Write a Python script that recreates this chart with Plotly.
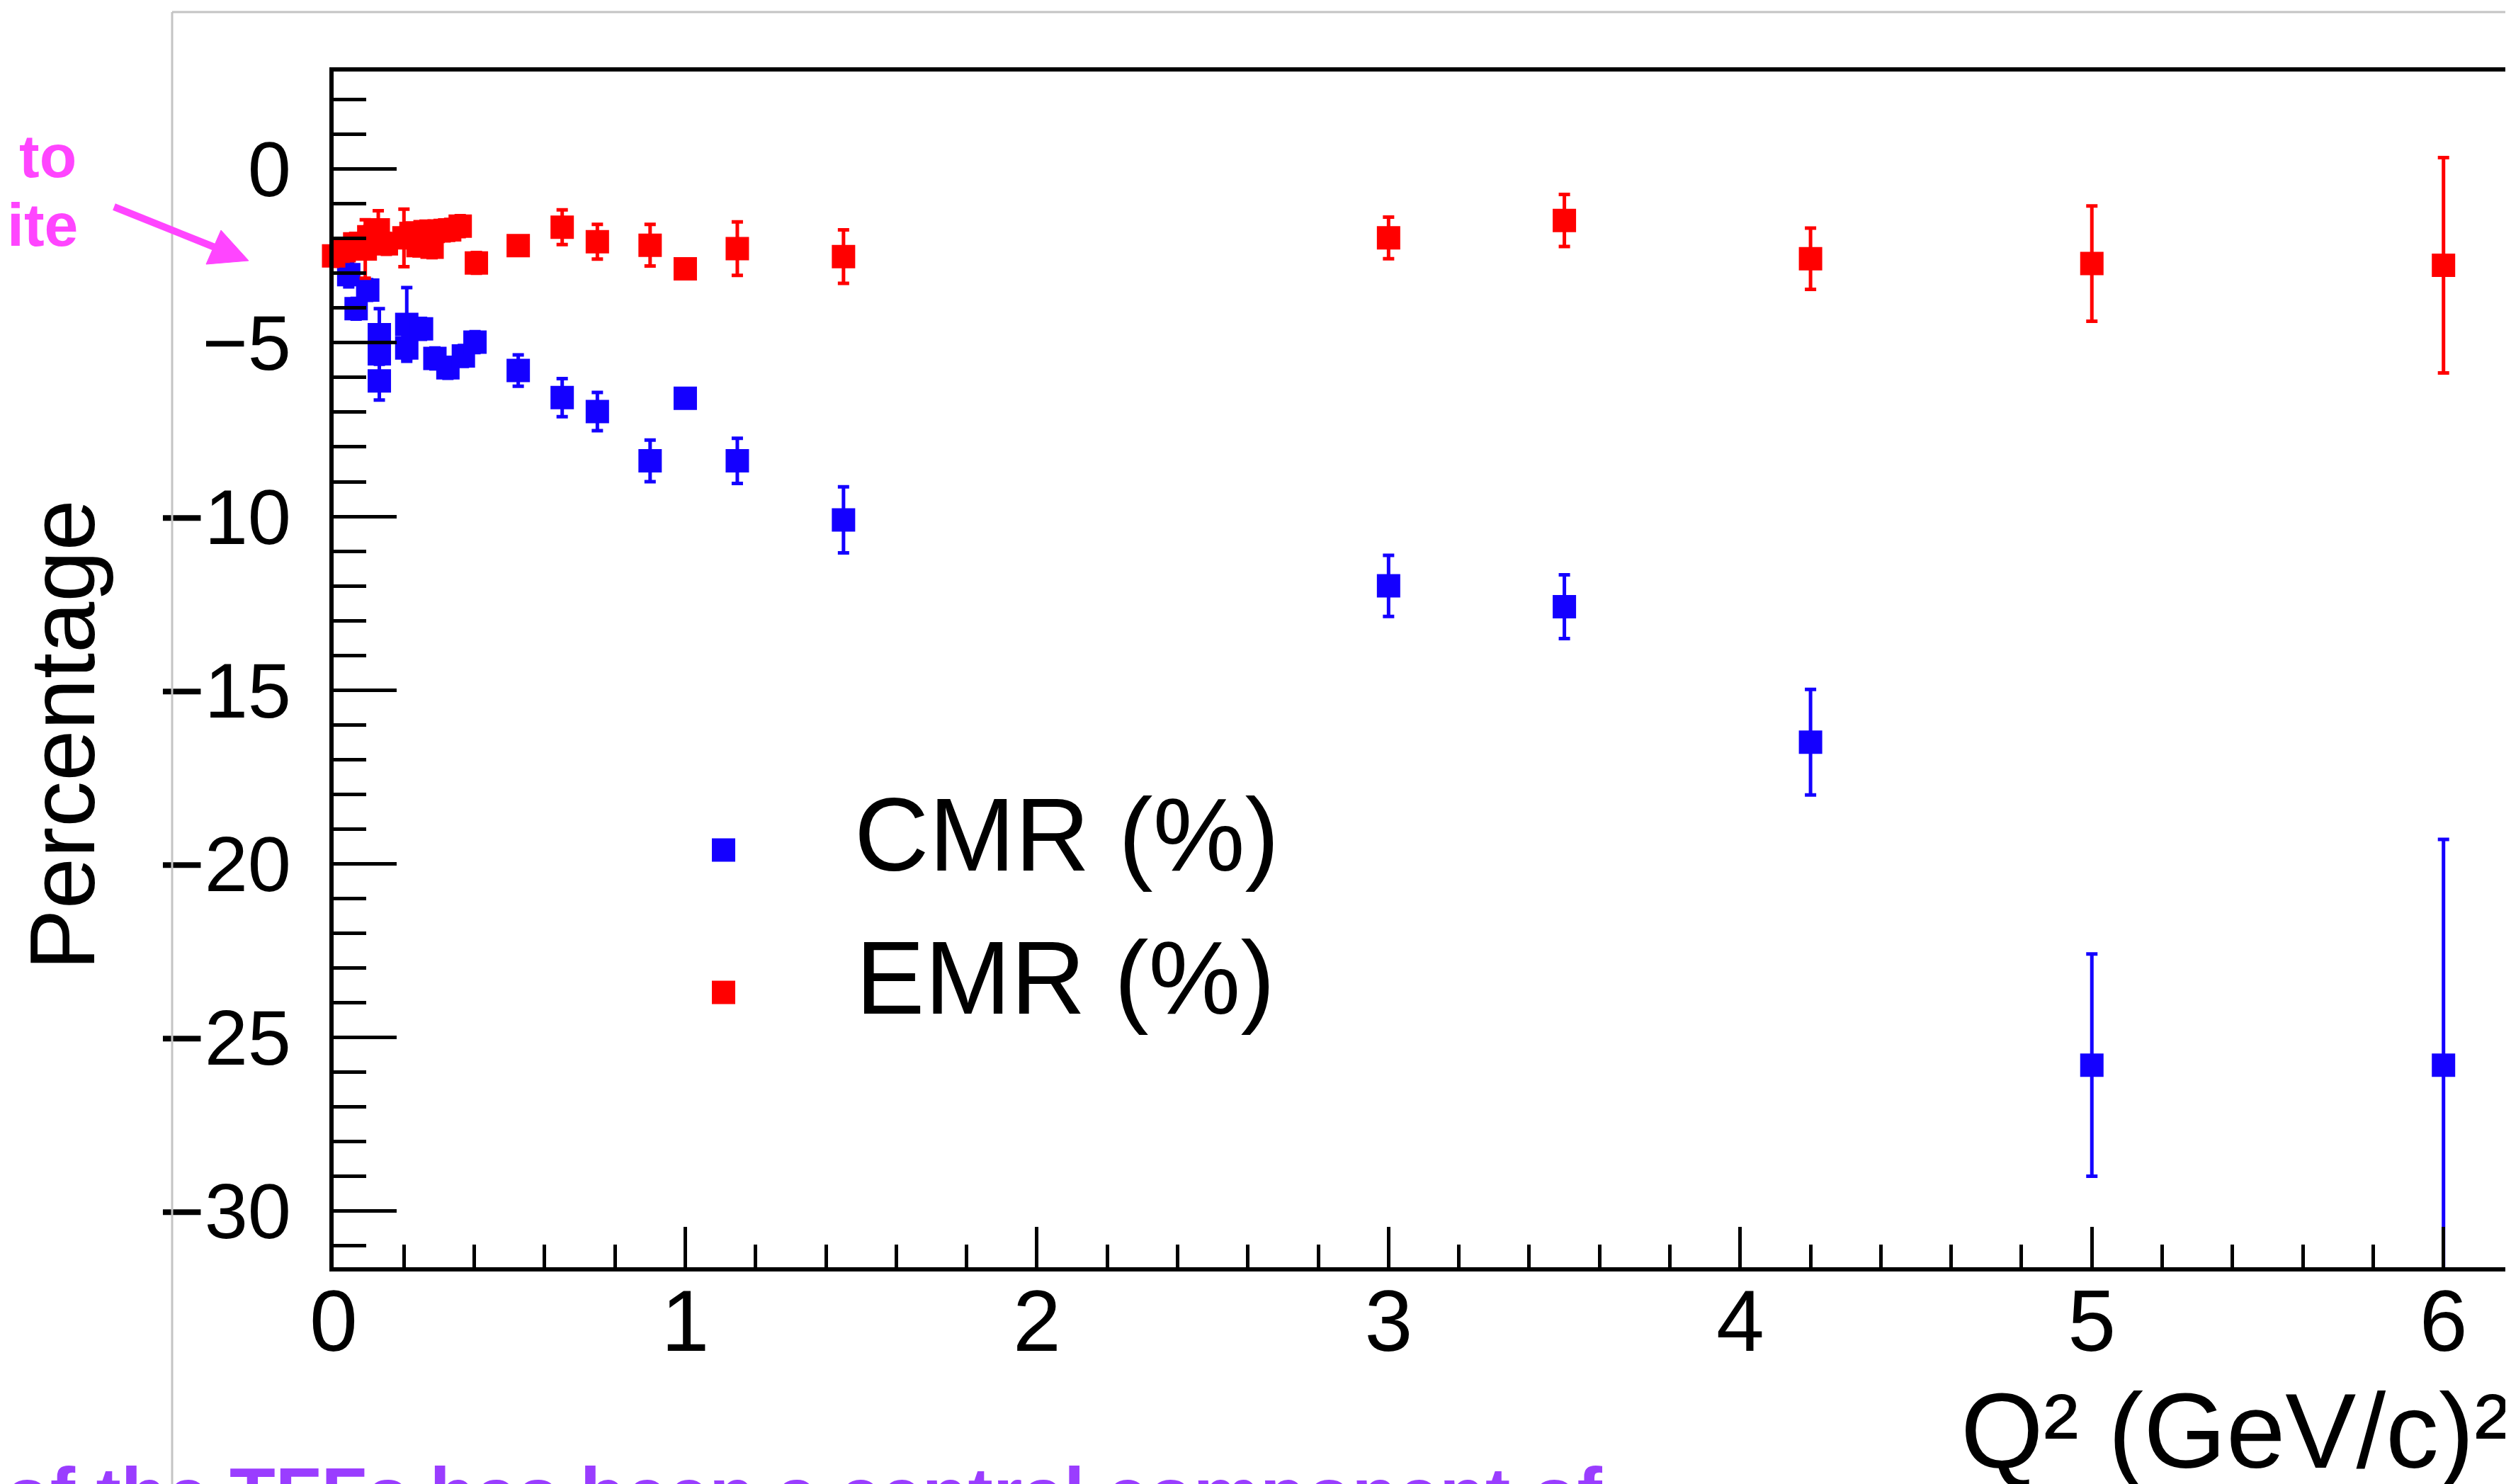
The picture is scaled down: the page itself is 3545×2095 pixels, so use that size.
import plotly.graph_objects as go

# ---------------- data ----------------
q2_cmr = [0.043, 0.064, 0.097, 0.130, 0.130, 0.130, 0.208, 0.208, 0.250, 0.288,
          0.325, 0.369, 0.402, 0.525, 0.650, 0.750, 0.900, 1.000, 1.148, 1.450,
          3.0, 3.5, 4.2, 5.0, 6.0]
cmr = [-3.04, -4.02, -3.48, -4.77, -5.32, -6.10, -4.47, -5.15, -4.60, -5.45,
       -5.72, -5.38, -4.98, -5.80, -6.58, -6.98, -8.40, -6.60, -8.40, -10.10,
       -12.0, -12.6, -16.5, -25.8, -25.8]
cmr_err = [0.35, 0.30, 0.30, 0.75, 0.30, 0.55, 1.06, 0.30, 0.30, 0.30,
           0.30, 0.30, 0.30, 0.45, 0.55, 0.55, 0.60, 0.20, 0.65, 0.95,
           0.88, 0.92, 1.52, 3.2, 6.5]

q2_emr = [0.000, 0.030, 0.060, 0.090, 0.100, 0.127, 0.150, 0.200, 0.220, 0.240,
          0.260, 0.280, 0.300, 0.330, 0.360, 0.406, 0.525, 0.650, 0.750, 0.900,
          1.000, 1.148, 1.450, 3.0, 3.5, 4.2, 5.0, 6.0]
emr = [-2.50, -2.35, -2.15, -2.30, -1.95, -1.75, -2.15, -1.98, -1.85, -2.20,
       -1.80, -2.25, -1.78, -1.75, -1.64, -2.70, -2.20, -1.67, -2.09, -2.19,
       -2.87, -2.29, -2.52, -1.98, -1.48, -2.58, -2.72, -2.77]
emr_err = [0.30, 0.30, 0.30, 0.84, 0.30, 0.55, 0.30, 0.83, 0.30, 0.30,
           0.30, 0.30, 0.30, 0.30, 0.30, 0.30, 0.25, 0.50, 0.50, 0.60,
           0.20, 0.77, 0.77, 0.60, 0.75, 0.88, 1.66, 3.10]

series_names = ["CMR (%)", "EMR (%)"]
x_tickvals = [0, 1, 2, 3, 4, 5, 6]
y_tickvals = [0, -5, -10, -15, -20, -25, -30]
x_title = "Q\u00b2 (GeV/c)\u00b2"
y_title = "Percentage"
note_pink = ["to", "ite"]
note_purple = "of the TFFs has been a central component of"

# ---------------- layout geometry ----------------
W, H = 3545, 2095
L, R, T, B = 463, 3541, 93, 1781


def px(x):
    return (x - L) / (R - L)


def py(y):
    return (B - y) / (B - T)


BLUE = "#1400ff"
RED = "#ff0000"
PINK = "#ff45ff"
PURPLE = "#9a3dff"
FONT = "Liberation Sans, Arial, Helvetica, sans-serif"

fig = go.Figure()
for q, v, e, c, name in [(q2_cmr, cmr, cmr_err, BLUE, series_names[0]),
                         (q2_emr, emr, emr_err, RED, series_names[1])]:
    fig.add_trace(go.Scatter(
        x=q, y=v, mode="markers",
        marker=dict(size=2, color="rgba(0,0,0,0)"),
        error_y=dict(type="data", array=e, color=c, thickness=5, width=8),
        cliponaxis=True, showlegend=False, hoverinfo="skip"))
    fig.add_trace(go.Scatter(
        x=q, y=v, mode="markers", name=name,
        marker=dict(symbol="square", size=33, color=c, line=dict(width=0)),
        cliponaxis=False, showlegend=False))

axis_common = dict(
    showline=True, linecolor="black", linewidth=6, mirror=True,
    showgrid=False, zeroline=False, ticks="inside", tickcolor="black",
    tickwidth=5, automargin=False, color="black",
)
fig.update_xaxes(
    range=[0, 6.2], tickmode="array", tickvals=x_tickvals,
    ticklen=57, ticklabelstandoff=-34,
    tickfont=dict(family=FONT, size=122, color="black"),
    minor=dict(ticks="inside", ticklen=32, tickwidth=5, tickcolor="black",
               dtick=0.2, tick0=0, showgrid=False),
    **axis_common)
fig.update_yaxes(
    range=[-31.62, 2.81], tickmode="array", tickvals=y_tickvals,
    ticklen=89, ticklabelstandoff=32,
    tickfont=dict(family=FONT, size=110, color="black"),
    minor=dict(ticks="inside", ticklen=46, tickwidth=5, tickcolor="black",
               dtick=1, tick0=0, showgrid=False),
    **axis_common)

shapes = []
# slide frame (light grey)
shapes.append(dict(type="line", xref="paper", yref="paper",
                   x0=px(235), x1=px(235), y0=py(9), y1=py(2100),
                   line=dict(color="#c4c4c4", width=3)))
shapes.append(dict(type="line", xref="paper", yref="paper",
                   x0=px(235), x1=px(3550), y0=py(9), y1=py(9),
                   line=dict(color="#c4c4c4", width=3)))
# pink arrow
shapes.append(dict(type="line", xref="paper", yref="paper",
                   x0=px(153), y0=py(284), x1=px(300), y1=py(343),
                   line=dict(color=PINK, width=10)))
tri = [(343, 360), (304, 317), (283, 365)]
path = "M {} {} L {} {} L {} {} Z".format(*[v for p in tri for v in (px(p[0]), py(p[1]))])
shapes.append(dict(type="path", xref="paper", yref="paper", path=path,
                   fillcolor=PINK, line=dict(color=PINK, width=1)))
# legend symbols
for cy, c in [(1192, BLUE), (1393, RED)]:
    shapes.append(dict(type="rect", xref="paper", yref="paper",
                       x0=px(997), x1=px(1030), y0=py(cy + 16.5), y1=py(cy - 16.5),
                       fillcolor=c, line=dict(width=0)))

annotations = [
    dict(text=y_title, x=px(80), y=py(1030), xref="paper", yref="paper",
         textangle=-90, showarrow=False, xanchor="center", yanchor="middle",
         font=dict(family=FONT, size=130, color="black")),
    dict(text=x_title, x=px(3537), y=py(2012), xref="paper", yref="paper",
         showarrow=False, xanchor="right", yanchor="middle",
         font=dict(family=FONT, size=150, color="black")),
    dict(text=series_names[0], x=px(1196), y=py(1170), xref="paper", yref="paper",
         showarrow=False, xanchor="left", yanchor="middle",
         font=dict(family=FONT, size=146, color="black")),
    dict(text=series_names[1], x=px(1198), y=py(1372), xref="paper", yref="paper",
         showarrow=False, xanchor="left", yanchor="middle",
         font=dict(family=FONT, size=146, color="black")),
    dict(text="<b>%s</b>" % note_pink[0], x=px(102), y=py(212), xref="paper", yref="paper",
         showarrow=False, xanchor="right", yanchor="middle",
         font=dict(family=FONT, size=86, color=PINK)),
    dict(text="<b>%s</b>" % note_pink[1], x=px(104), y=py(309), xref="paper", yref="paper",
         showarrow=False, xanchor="right", yanchor="middle",
         font=dict(family=FONT, size=86, color=PINK)),
    dict(text="<b>%s</b>" % note_purple, x=px(-4), y=py(2101), xref="paper", yref="paper",
         showarrow=False, xanchor="left", yanchor="middle",
         font=dict(family=FONT, size=106, color=PURPLE)),
]

fig.update_layout(
    template="none",
    width=W, height=H, autosize=False,
    margin=dict(l=L, r=W - R, t=T, b=H - B, pad=0),
    paper_bgcolor="white", plot_bgcolor="white",
    showlegend=False,
    shapes=shapes, annotations=annotations,
    font=dict(family=FONT, color="black"),
)

fig.write_html("out.html")
